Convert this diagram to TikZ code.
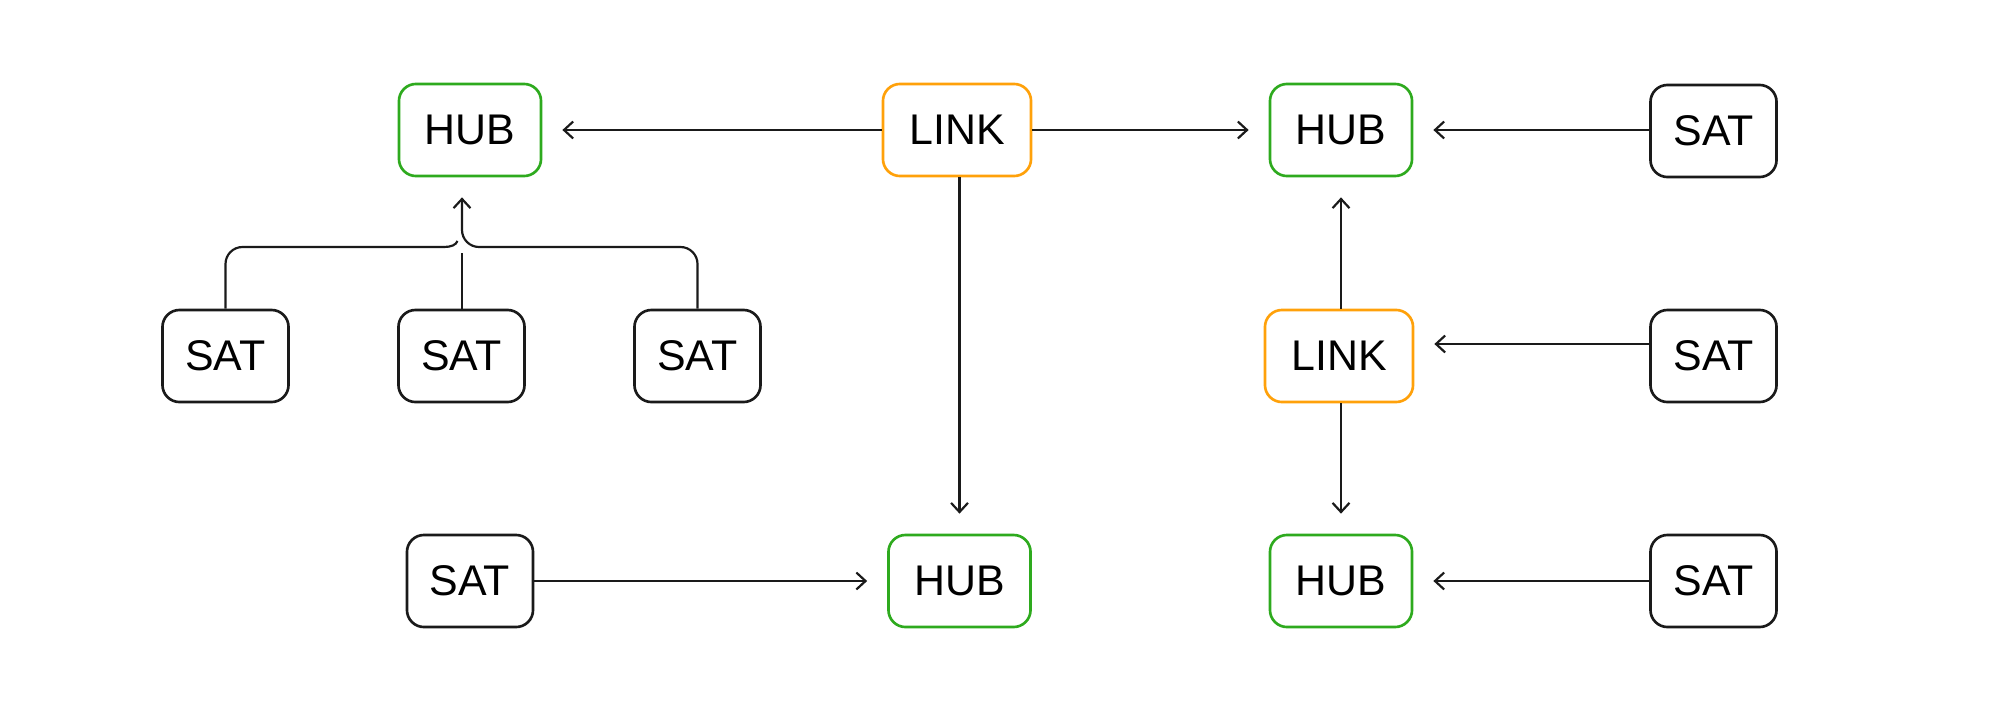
\documentclass[tikz,border=0pt]{standalone}
\usepackage{fontspec}
\setmainfont{Liberation Sans}
\usetikzlibrary{arrows.meta,calc}
\definecolor{hubgreen}{HTML}{2EAA1E}
\definecolor{linkorange}{HTML}{FFA10A}
\definecolor{ink}{HTML}{1A1A1A}
\begin{document}
\begin{tikzpicture}[x=0.01cm,y=-0.01cm,
  box/.style={draw, rounded corners=0.17cm, line width=0.75pt, minimum height=0.92cm,
    inner sep=0pt, font=\fontsize{12.2}{14}\selectfont, fill=white},
  hubbox/.style={box, draw=hubgreen, minimum width=1.42cm},
  linkbox/.style={box, draw=linkorange, minimum width=1.48cm},
  satbox/.style={box, draw=ink, minimum width=1.26cm},
  conn/.style={draw=ink, line width=0.62pt},
  arr/.style={conn, -{Straight Barb[length=2.6pt,width=4.8pt,line width=0.62pt]}, shorten >=0.2cm}]
\useasboundingbox (0,0) rectangle (2000,712);

\node[hubbox]  (hub1)  at (470,130) {HUB};
\node[linkbox] (link1) at (957,130) {LINK};
\node[hubbox]  (hub2)  at (1341,130) {HUB};
\node[satbox]  (satA)  at (1713.5,131) {SAT};

\node[satbox]  (sat1)  at (225.5,356) {SAT};
\node[satbox]  (sat2)  at (461.5,356) {SAT};
\node[satbox]  (sat3)  at (697.5,356) {SAT};
\node[linkbox] (link2) at (1339,356) {LINK};
\node[satbox]  (satB)  at (1713.5,356) {SAT};

\node[satbox]  (sat4)  at (470,581) {SAT};
\node[hubbox]  (hub3)  at (959.5,581) {HUB};
\node[hubbox]  (hub4)  at (1341,581) {HUB};
\node[satbox]  (satC)  at (1713.5,581) {SAT};

% tree into hub1
\coordinate (j) at (462,247);
\coordinate (m) at (462,253);
\coordinate (l) at (444,247);
\coordinate (lend) at (457.5,241);
\draw[arr, rounded corners=0.17cm] (sat3.north) |- (j) -- (j |- hub1.south);
\draw[conn, rounded corners=0.17cm] (sat1.north) |- (l);
\draw[conn] (l) .. controls (451,247) and (456,245) .. (lend);
\draw[conn] (sat2.north -| m) -- (m);

% straight connectors
\draw[arr] (link1.west) -- (hub1.east);
\draw[arr] (link1.east) -- (hub2.west);
\draw[arr] (satA.west |- hub2.east) -- (hub2.east);
\draw[arr] (hub3.north |- link1.south) -- (hub3.north);
\draw[arr] (hub2.south |- link2.north) -- (hub2.south);
\draw[arr] ([yshift=0.12cm]satB.west) -- ([yshift=0.12cm]link2.east);
\draw[arr] (hub4.north |- link2.south) -- (hub4.north);
\draw[arr] (satC.west) -- (hub4.east);
\draw[arr] (sat4.east) -- (hub3.west);
\end{tikzpicture}
\end{document}
